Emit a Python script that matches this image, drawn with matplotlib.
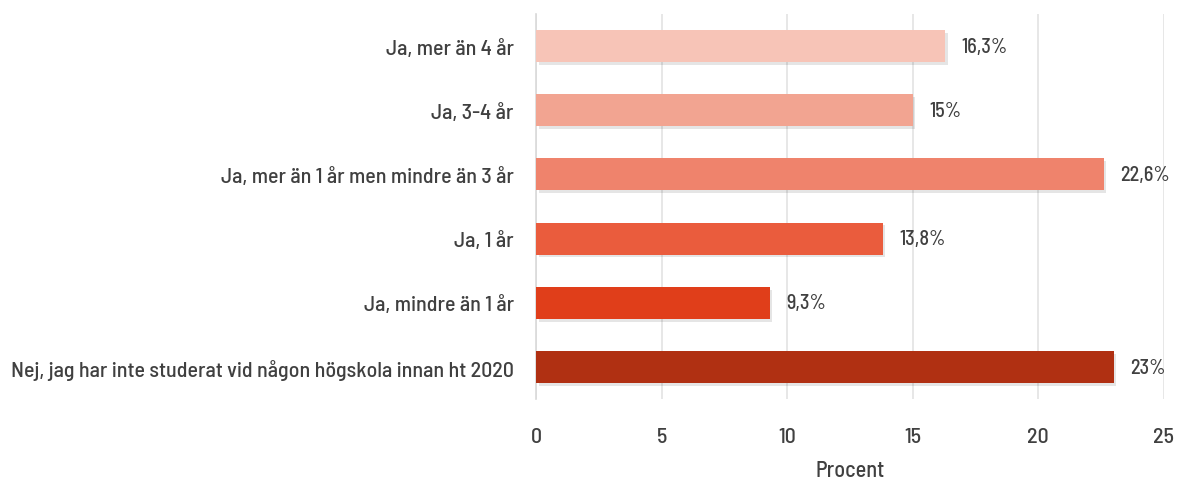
import matplotlib.pyplot as plt
import matplotlib.patheffects as pe

# Kategorier (nerifrån och upp) och andelar i procent
kategorier = [
    "Nej, jag har inte studerat vid någon högskola innan ht 2020",
    "Ja, mindre än 1 år",
    "Ja, 1 år",
    "Ja, mer än 1 år men mindre än 3 år",
    "Ja, 3-4 år",
    "Ja, mer än 4 år",
]
andelar = [23, 9.3, 13.8, 22.6, 15, 16.3]
etiketter = ["23%", "9,3%", "13,8%", "22,6%", "15%", "16,3%"]
farger = ["#B03012", "#E03E1A", "#EA5C3D", "#EF836C", "#F2A491", "#F7C4B7"]

plt.rcParams["font.family"] = ["Barlow Semi Condensed", "DejaVu Sans"]
plt.rcParams["font.weight"] = 500
textfarg = "#404040"

fig = plt.figure(figsize=(11.78, 4.81), dpi=100)
ax = fig.add_axes([0.455, 0.168, 0.533, 0.801])

y = range(len(kategorier))
bars = ax.barh(y, andelar, height=0.5, color=farger, zorder=3)
for b in bars:
    b.set_path_effects([pe.SimplePatchShadow(offset=(2, -2), shadow_rgbFace="#000000", alpha=0.10),
                        pe.Normal()])

for yi, v, t in zip(y, andelar, etiketter):
    ax.text(v + 0.65, yi, t, va="center", ha="left", fontsize=14.5,
            fontweight=500, color=textfarg)

ax.set_xlim(0, 25)
ax.set_ylim(-0.5, len(kategorier) - 0.5)
ax.set_xticks([0, 5, 10, 15, 20, 25])
ax.set_yticks(list(y))
ax.set_yticklabels(kategorier)
ax.tick_params(axis="both", length=0, labelsize=15.8, colors=textfarg)
ax.tick_params(axis="x", pad=20)
ax.tick_params(axis="y", pad=16)
ax.xaxis.grid(True, color="#E3E3E3", linewidth=1.2, zorder=0)
for s in ["top", "right", "bottom"]:
    ax.spines[s].set_visible(False)
ax.spines["left"].set_color("#D9D9D9")
ax.spines["left"].set_linewidth(1.2)
ax.set_xlabel("Procent", fontsize=16, fontweight=500, color=textfarg, labelpad=10)

fig.savefig("out.png", dpi=100)
